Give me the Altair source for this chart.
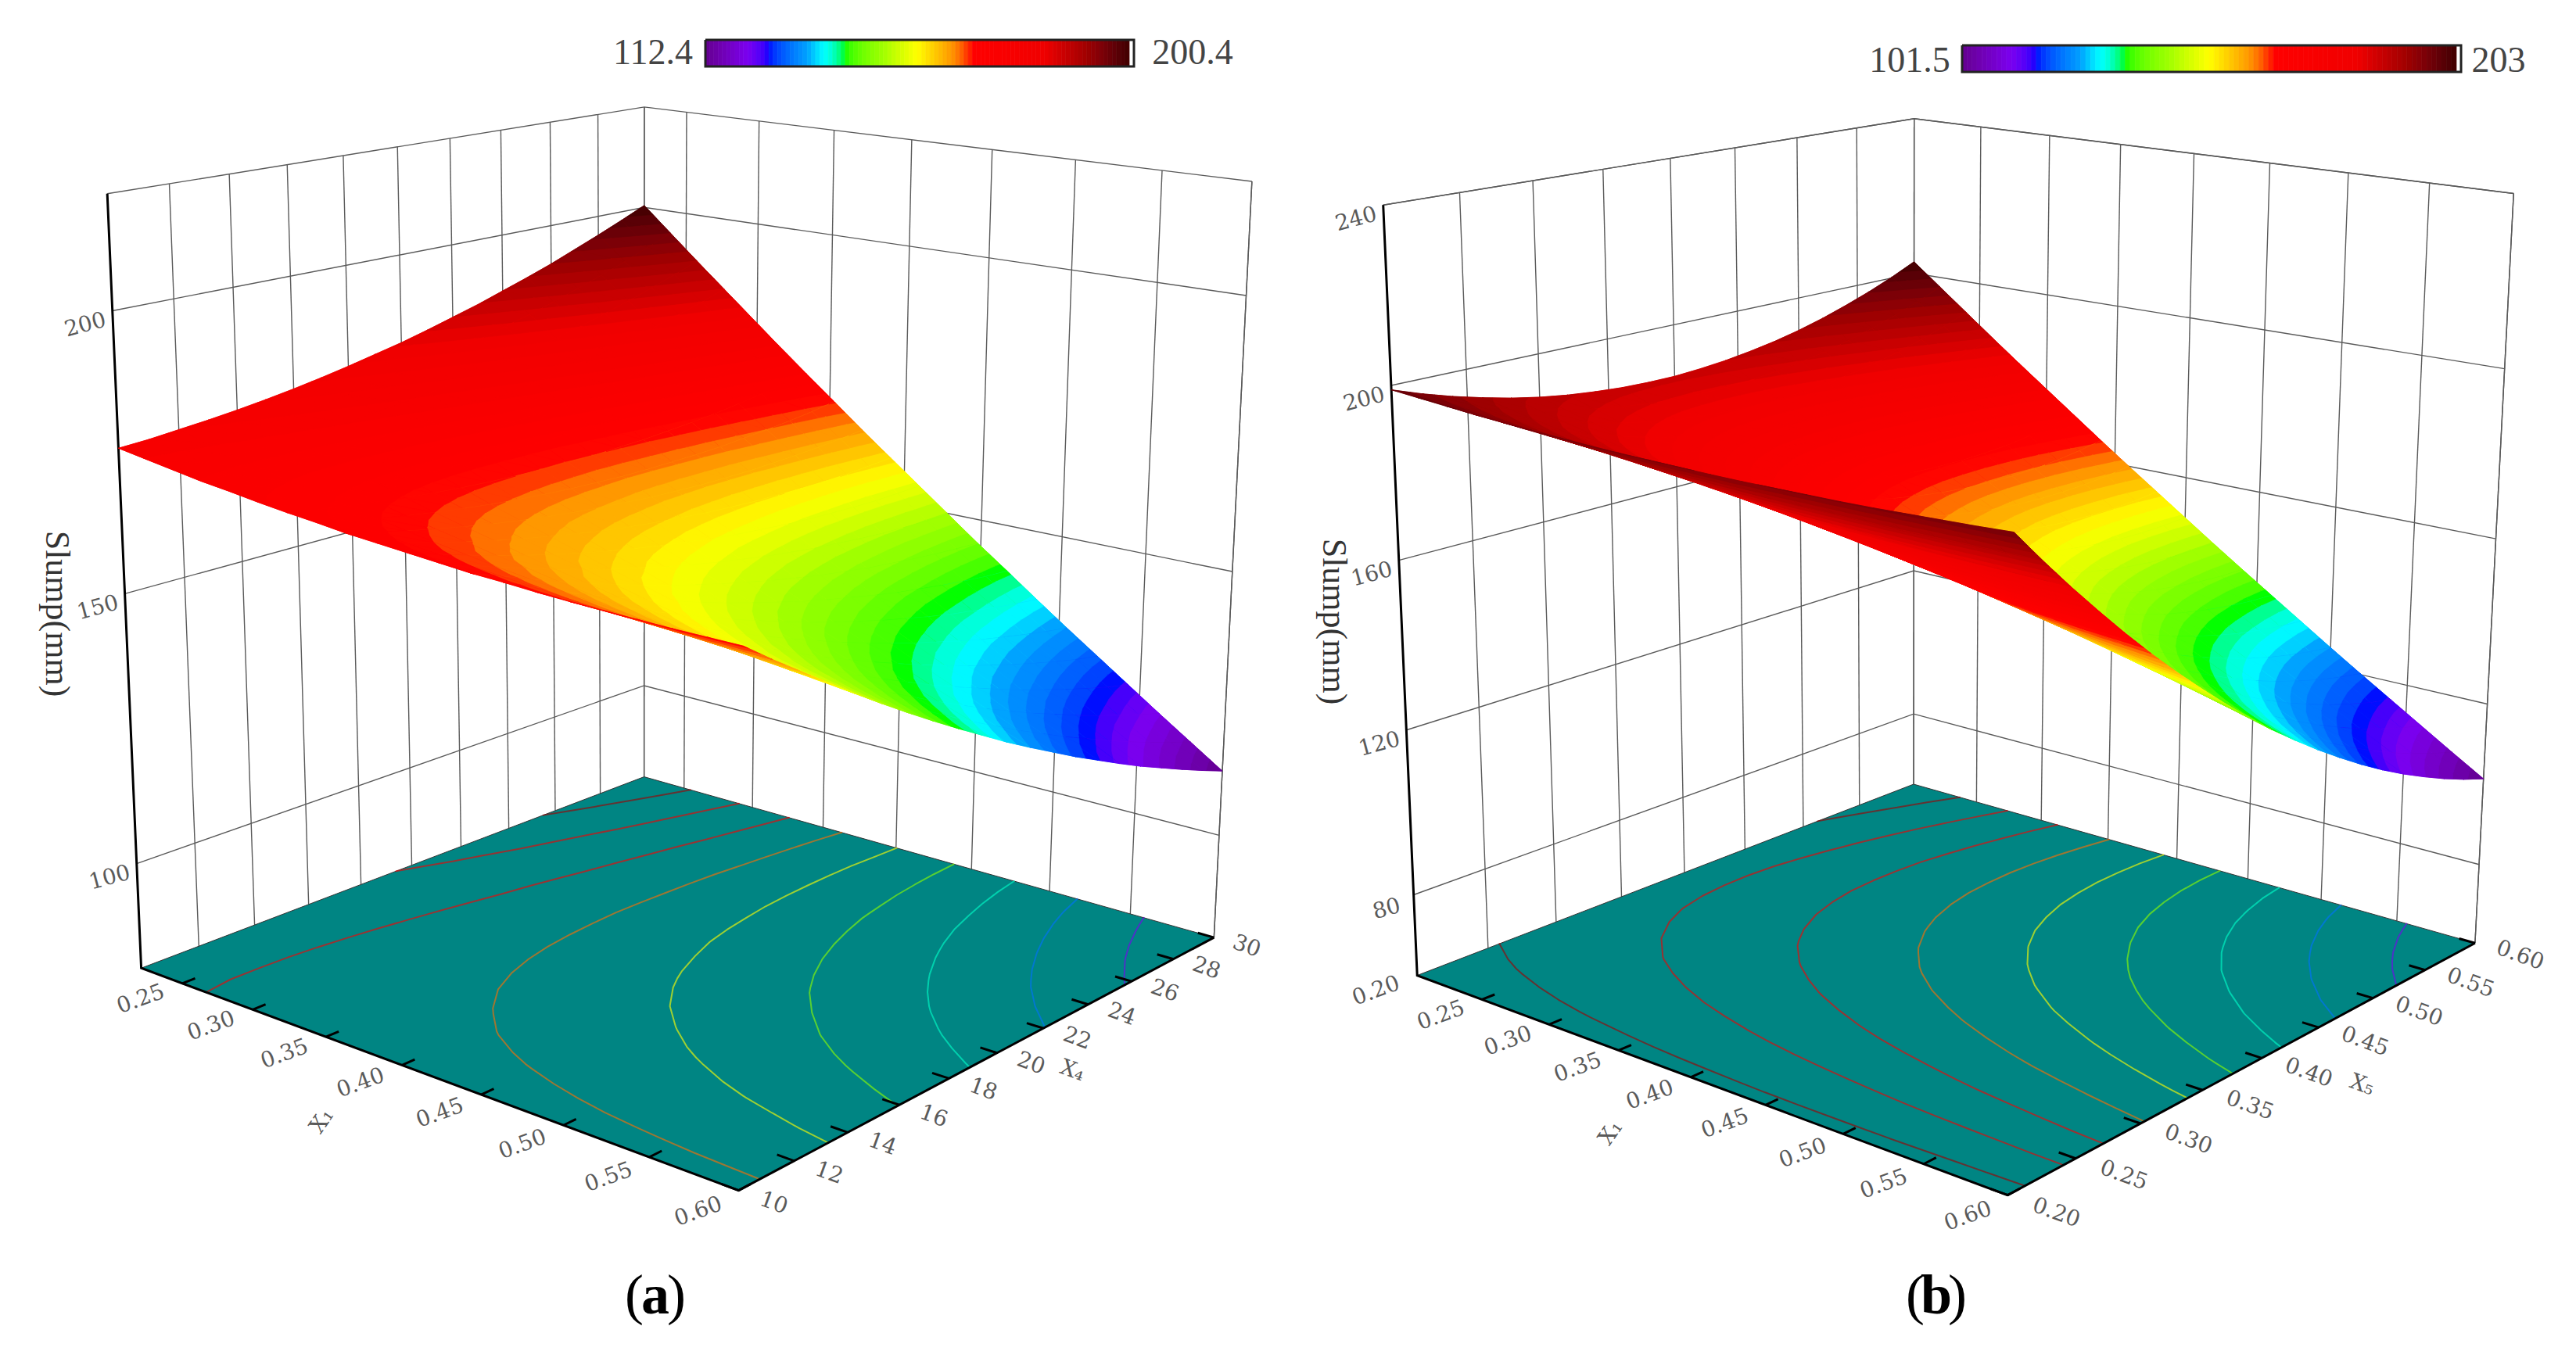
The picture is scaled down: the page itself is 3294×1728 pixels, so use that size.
import altair as alt
import numpy as np

# ---------- values ----------
# rows: X4 = 10..30 in 21 steps, columns: X1 = 0.22..0.60 in 21 steps
Z_A = [
[176.0,175.2,174.4,173.6,173.0,172.3,171.7,171.2,170.6,170.2,169.8,169.4,169.0,168.8,168.5,168.3,168.2,168.1,168.0,168.0,168.0],
[176.3,175.3,174.3,173.4,172.5,171.6,170.8,170.1,169.4,168.7,168.1,167.5,167.0,166.5,166.0,165.6,165.3,165.0,164.7,164.5,164.3],
[176.8,175.5,174.4,173.2,172.1,171.1,170.1,169.1,168.2,167.3,166.5,165.7,165.0,164.3,163.7,163.1,162.5,162.0,161.6,161.1,160.8],
[177.3,175.9,174.5,173.1,171.8,170.6,169.4,168.2,167.1,166.1,165.0,164.1,163.1,162.2,161.4,160.6,159.8,159.1,158.5,157.8,157.3],
[177.9,176.3,174.7,173.1,171.7,170.2,168.8,167.4,166.1,164.9,163.6,162.4,161.3,160.2,159.2,158.2,157.2,156.3,155.5,154.7,153.9],
[178.6,176.8,175.0,173.2,171.6,169.9,168.3,166.7,165.2,163.8,162.3,161.0,159.6,158.3,157.1,155.9,154.7,153.6,152.6,151.6,150.6],
[179.4,177.4,175.4,173.4,171.6,169.7,167.9,166.1,164.4,162.8,161.1,159.5,158.0,156.6,155.1,153.7,152.4,151.0,149.8,148.6,147.4],
[180.3,178.1,175.9,173.7,171.6,169.6,167.6,165.6,163.7,161.9,160.0,158.3,156.5,154.8,153.2,151.6,150.0,148.5,147.1,145.7,144.3],
[181.3,178.8,176.5,174.1,171.8,169.6,167.4,165.2,163.1,161.0,159.0,157.0,155.1,153.2,151.4,149.6,147.8,146.1,144.5,142.9,141.3],
[182.4,179.7,177.1,174.6,172.1,169.7,167.3,164.9,162.6,160.3,158.1,155.9,153.8,151.7,149.7,147.7,145.7,143.8,142.0,140.2,138.4],
[183.5,180.7,177.9,175.2,172.5,169.8,167.2,164.7,162.2,159.7,157.3,154.9,152.6,150.3,148.0,145.8,143.7,141.6,139.5,137.5,135.5],
[184.8,181.8,178.8,175.8,172.9,170.1,167.3,164.5,161.8,159.2,156.5,154.0,151.4,148.9,146.5,144.1,141.8,139.4,137.2,135.0,132.8],
[186.2,182.9,179.7,176.6,173.5,170.5,167.5,164.5,161.6,158.7,155.9,153.1,150.4,147.7,145.1,142.5,139.9,137.4,134.9,132.5,130.2],
[187.6,184.2,180.8,177.4,174.2,170.9,167.7,164.6,161.4,158.4,155.4,152.4,149.4,146.6,143.7,140.9,138.2,135.5,132.8,130.2,127.6],
[189.2,185.5,181.9,178.4,174.9,171.5,168.1,164.7,161.4,158.1,154.9,151.7,148.6,145.5,142.5,139.5,136.5,133.6,130.7,127.9,125.2],
[190.8,186.9,183.1,179.4,175.8,172.1,168.5,164.9,161.4,158.0,154.5,151.2,147.8,144.5,141.3,138.1,135.0,131.8,128.8,125.8,122.8],
[192.5,188.5,184.5,180.6,176.7,172.8,169.0,165.3,161.6,157.9,154.3,150.7,147.2,143.7,140.2,136.8,133.5,130.2,126.9,123.7,120.5],
[194.4,190.1,185.9,181.8,177.7,173.7,169.7,165.7,161.8,157.9,154.1,150.3,146.6,142.9,139.3,135.7,132.1,128.6,125.1,121.7,118.4],
[196.3,191.8,187.5,183.1,178.8,174.6,170.4,166.2,162.1,158.0,154.0,150.1,146.1,142.2,138.4,134.6,130.8,127.1,123.5,119.8,116.3],
[198.3,193.7,189.1,184.5,180.1,175.6,171.2,166.8,162.5,158.3,154.1,149.9,145.7,141.6,137.6,133.6,129.6,125.7,121.9,118.1,114.3],
[200.4,195.6,190.8,186.1,181.4,176.7,172.1,167.6,163.0,158.6,154.2,149.8,145.4,141.2,136.9,132.7,128.6,124.5,120.4,116.4,112.4],
]
# rows: X5 = 0.20..0.60 in 21 steps, columns: X1 = 0.20..0.60 in 21 steps
Z_B = [
[199.0,198.5,198.0,197.5,197.1,196.8,196.5,196.2,196.0,195.9,195.8,195.7,195.7,195.8,195.9,196.0,196.2,196.5,196.8,197.1,197.5],
[196.6,195.8,195.1,194.4,193.7,193.1,192.6,192.1,191.6,191.2,190.9,190.6,190.3,190.1,190.0,189.9,189.8,189.8,189.9,190.0,190.1],
[194.5,193.5,192.5,191.5,190.6,189.8,189.0,188.2,187.5,186.9,186.3,185.7,185.2,184.8,184.4,184.0,183.7,183.5,183.3,183.1,183.0],
[192.7,191.4,190.1,188.9,187.8,186.7,185.6,184.6,183.7,182.8,181.9,181.1,180.4,179.7,179.0,178.4,177.9,177.4,176.9,176.5,176.2],
[191.1,189.6,188.1,186.6,185.2,183.9,182.6,181.3,180.1,179.0,177.9,176.8,175.8,174.9,174.0,173.1,172.3,171.6,170.9,170.2,169.6],
[189.8,188.0,186.3,184.6,182.9,181.3,179.8,178.3,176.8,175.4,174.1,172.8,171.5,170.3,169.2,168.1,167.0,166.0,165.1,164.2,163.3],
[188.8,186.8,184.8,182.8,180.9,179.1,177.3,175.5,173.8,172.2,170.6,169.0,167.5,166.1,164.7,163.3,162.0,160.8,159.6,158.4,157.3],
[188.1,185.8,183.5,181.3,179.2,177.1,175.0,173.0,171.1,169.2,167.3,165.5,163.8,162.1,160.4,158.8,157.3,155.8,154.3,152.9,151.6],
[187.6,185.0,182.5,180.1,177.7,175.3,173.0,170.8,168.6,166.4,164.3,162.3,160.3,158.3,156.4,154.6,152.8,151.0,149.3,147.7,146.1],
[187.4,184.6,181.8,179.1,176.5,173.9,171.3,168.8,166.4,164.0,161.6,159.3,157.1,154.9,152.7,150.6,148.6,146.6,144.6,142.7,140.9],
[187.4,184.4,181.4,178.4,175.5,172.7,169.9,167.1,164.4,161.8,159.2,156.6,154.1,151.7,149.3,146.9,144.6,142.4,140.2,138.0,135.9],
[187.8,184.5,181.2,178.0,174.9,171.8,168.7,165.7,162.8,159.9,157.0,154.2,151.5,148.8,146.1,143.5,141.0,138.5,136.0,133.6,131.3],
[188.4,184.8,181.3,177.9,174.5,171.1,167.8,164.6,161.4,158.2,155.1,152.1,149.1,146.1,143.2,140.4,137.6,134.8,132.1,129.5,126.9],
[189.3,185.5,181.7,178.0,174.4,170.8,167.2,163.7,160.3,156.9,153.5,150.2,147.0,143.8,140.6,137.5,134.5,131.5,128.5,125.6,122.8],
[190.4,186.4,182.4,178.4,174.5,170.7,166.9,163.1,159.4,155.8,152.2,148.6,145.1,141.7,138.3,134.9,131.6,128.4,125.2,122.0,118.9],
[191.8,187.5,183.3,179.1,174.9,170.8,166.8,162.8,158.8,154.9,151.1,147.3,143.5,139.8,136.2,132.6,129.0,125.5,122.1,118.7,115.3],
[193.5,189.0,184.5,180.0,175.6,171.3,167.0,162.7,158.5,154.4,150.3,146.2,142.2,138.3,134.4,130.5,126.7,123.0,119.3,115.6,112.0],
[195.5,190.7,185.9,181.2,176.6,172.0,167.4,162.9,158.5,154.1,149.7,145.4,141.2,137.0,132.8,128.7,124.7,120.7,116.7,112.8,109.0],
[197.7,192.7,187.7,182.7,177.8,173.0,168.2,163.4,158.7,154.1,149.5,144.9,140.4,136.0,131.6,127.2,122.9,118.7,114.5,110.3,106.2],
[200.2,194.9,189.7,184.5,179.3,174.2,169.2,164.2,159.2,154.3,149.5,144.7,139.9,135.2,130.6,126.0,121.4,116.9,112.5,108.1,103.7],
[203.0,197.5,192.0,186.5,181.1,175.8,170.5,165.2,160.0,154.9,149.8,144.7,139.7,134.8,129.9,125.0,120.2,115.5,110.8,106.1,101.5],
]
LEVELS_A = [121.2, 130.0, 138.8, 147.6, 156.4, 165.2, 174.0, 182.8, 191.6]
LEVELS_B = [111.65, 121.8, 131.95, 142.1, 152.25, 162.4, 172.55, 182.7, 192.85]
X1_TICKS_A = [0.25, 0.30, 0.35, 0.40, 0.45, 0.50, 0.55, 0.60]
X4_TICKS_A = [10, 12, 14, 16, 18, 20, 22, 24, 26, 28, 30]
Z_TICKS_A = [100, 150, 200]
X1_TICKS_B = [0.25, 0.30, 0.35, 0.40, 0.45, 0.50, 0.55, 0.60]
X5_TICKS_B = [0.20, 0.25, 0.30, 0.35, 0.40, 0.45, 0.50, 0.55, 0.60]
Z_TICKS_B = [80, 120, 160, 200, 240]

# ---------- view of each 3D box: (s, t, w) box position -> picture position ----------
VIEW_A = [((0,0,0),(177,1240)),((1,0,0),(946,1525)),((1,1,0),(1555,1198)),((0,1,0),(824,994)),
          ((0,0,1),(135,248)),((0,1,1),(824,138)),((1,1,1),(1601,231)),
          ((0.2105,0,0),(327,1290)),((0.6053,0,0),(619,1399)),
          ((1,0.3,0),(1146,1414)),((1,0.7,0),(1388,1285)),
          ((0,0,1/7),(174,1102)),((0,0,0.5),(158,760)),((0,0,6/7),(147,397))]
VIEW_B = [((0,0,0),(1808,1248)),((1,0,0),(2567,1532)),((1,1,0),(3168,1203)),((0,1,0),(2447,1005)),
          ((0,0,1),(1767,262)),((0,1,1),(2447,152)),((1,1,1),(3215,248)),
          ((0.25,0,0),(1983,1310)),((0.625,0,0),(2261,1413)),
          ((1,0.25,0),(2734,1437)),((1,0.75,0),(3031,1277)),
          ((0,0,7/9),(1778,494)),((0,0,5/9),(1792,716)),((0,0,1/3),(1800,931))]

FLOOR = "#008583"
GRID = "#5a5a5a"
TEXT = "#5a5a5a"
BANDS = 56
STOPS = [0, .10, .15, .24, .28, .33, .42, .50, .58, .62, .635, .80, .90, 1]
COLORS = ["#640090", "#7a00f0", "#0000ff", "#00a0ff", "#00ffff", "#00ff00", "#a0ff00", "#ffff00",
          "#ff9900", "#ff2800", "#ff0000", "#f00000", "#a00000", "#400000"]
CS = alt.Scale(domain=STOPS, range=COLORS, clamp=True)


def camera(view):
    rows = []
    for (X, Y, Z), (u, v) in view:
        u, v = u / 1000, v / 1000
        rows.append([X, Y, Z, 1, 0, 0, 0, 0, -u*X, -u*Y, -u*Z, -u])
        rows.append([0, 0, 0, 0, X, Y, Z, 1, -v*X, -v*Y, -v*Z, -v])
    return np.linalg.svd(np.array(rows, float))[2][-1].reshape(3, 4)


def project(P, s, t, w):
    h = P @ np.array([s, t, w, 1.0])
    return [float(1000*h[0]/h[2]), float(1000*h[1]/h[2])]


def feat(kind, coords, **props):
    return {"type": "Feature", "geometry": {"type": kind, "coordinates": coords}, "properties": props}


def clip(poly, lim, keep_above):
    """Keep the part of a facet on one side of a height, as a filled-contour plot does."""
    out = []
    for k, a in enumerate(poly):
        b = poly[(k + 1) % len(poly)]
        ina = a[2] >= lim if keep_above else a[2] <= lim
        inb = b[2] >= lim if keep_above else b[2] <= lim
        if ina:
            out.append(a)
        if ina != inb:
            r = (lim - a[2]) / (b[2] - a[2])
            out.append((a[0] + r*(b[0]-a[0]), a[1] + r*(b[1]-a[1]), lim))
    return out


def panel(Z, levels, view, x1_ticks, x2_ticks, z_ticks, x1_dom, x2_dom, z_dom, x2_fmt, x2_name,
          right_off, bar, bar_labels, tag, slump, x1_title, x2_title):
    P = camera(view)
    Z = np.array(Z)
    n = Z.shape[0]
    zmin, zmax = float(Z.min()), float(Z.max())
    S = lambda v: (v - x1_dom[0]) / (x1_dom[1] - x1_dom[0])
    T = lambda v: (v - x2_dom[0]) / (x2_dom[1] - x2_dom[0])
    W = lambda v: (v - z_dom[0]) / (z_dom[1] - z_dom[0])
    F = lambda v: float((v - zmin) / (zmax - zmin))
    pr = lambda s, t, w=0: project(P, s, t, w)

    # walls
    grid = []
    for v in x2_ticks:
        grid.append(feat("LineString", [pr(0, T(v)), pr(0, T(v), 1)]))
    for v in x1_ticks:
        grid.append(feat("LineString", [pr(S(v), 1), pr(S(v), 1, 1)]))
    for v in z_ticks:
        grid.append(feat("LineString", [pr(0, 0, W(v)), pr(0, 1, W(v)), pr(1, 1, W(v))]))
    grid.append(feat("LineString", [pr(0, 0, 1), pr(0, 1, 1), pr(1, 1, 1)]))
    grid.append(feat("LineString", [pr(0, 1), pr(0, 1, 1)]))
    grid.append(feat("LineString", [pr(1, 1), pr(1, 1, 1)]))
    layers = [alt.Chart(alt.Data(values=grid)).mark_geoshape(filled=False, stroke=GRID, strokeWidth=1.4)]

    # floor
    floor = [feat("Polygon", [[pr(0, 0), pr(1, 0), pr(1, 1), pr(0, 1), pr(0, 0)]])]
    layers.append(alt.Chart(alt.Data(values=floor)).mark_geoshape(fill=FLOOR, stroke="#333333", strokeWidth=1))

    cont = []
    d = 1 / (n - 1)
    for level in levels:
        lv = level + 0.0137
        segs = []
        for j in range(n - 1):
            for i in range(n - 1):
                c = [(i, j), (i + 1, j), (i + 1, j + 1), (i, j + 1)]
                pts = []
                for k in range(4):
                    a, b = c[k], c[(k + 1) % 4]
                    za, zb = Z[a[1], a[0]], Z[b[1], b[0]]
                    if (za - lv) * (zb - lv) < 0:
                        r = (lv - za) / (zb - za)
                        pts.append(pr((a[0] + r * (b[0] - a[0])) * d, (a[1] + r * (b[1] - a[1])) * d))
                for k in range(0, len(pts) - 1, 2):
                    segs.append([pts[k], pts[k + 1]])
        cont.append(feat("MultiLineString", segs, f=F(level)))
    layers.append(alt.Chart(alt.Data(values=cont)).mark_geoshape(
        filled=False, strokeWidth=2, strokeOpacity=0.62, strokeCap="round"
    ).encode(stroke=alt.Stroke("properties.f:Q", scale=CS, legend=None)))

    # axes
    thick = [feat("LineString", [pr(0, 0, 1), pr(0, 0), pr(1, 0), pr(1, 1)])]
    for v in x1_ticks:
        thick.append(feat("LineString", [pr(S(v), 0), pr(S(v), 0.022)]))
    for v in x2_ticks:
        thick.append(feat("LineString", [pr(1, T(v)), pr(0.975, T(v))]))
    layers.append(alt.Chart(alt.Data(values=thick)).mark_geoshape(filled=False, stroke="#000000", strokeWidth=3))

    # surface: facets far to near, each filled as colour bands like the reference
    cells = []
    order = sorted(((i, j) for j in range(n - 1) for i in range(n - 1)), key=lambda c: c[0] - c[1])
    step = (zmax - zmin) / BANDS
    for i, j in order:
        a = (i*d, j*d, float(Z[j, i]))
        b = (i*d + d, j*d, float(Z[j, i+1]))
        c = (i*d + d, j*d + d, float(Z[j+1, i+1]))
        e = (i*d, j*d + d, float(Z[j+1, i]))
        # one plain facet underneath closes any hairline gap between the bands
        under = [pr(p[0], p[1], W(p[2])) for p in (a, b, c, e, a)]
        cells.append(feat("Polygon", [under], f=F((a[2] + b[2] + c[2] + e[2]) / 4)))
        # far triangle first
        for tri in ([a, c, e], [a, b, c]):
            zs = [p[2] for p in tri]
            k0 = max(int((min(zs) - zmin) // step), 0)
            k1 = min(int((max(zs) - zmin) // step), BANDS - 1)
            for k in range(k0, k1 + 1):
                lo = zmin + k * step
                poly = clip(clip(list(tri), lo, True), lo + step, False)
                if len(poly) < 3:
                    continue
                ring = [pr(p[0], p[1], W(p[2])) for p in poly]
                ring.append(ring[0])
                cells.append(feat("Polygon", [ring], f=(k + 0.5) / BANDS))
    layers.append(alt.Chart(alt.Data(values=cells)).mark_geoshape(strokeWidth=0.7).encode(
        fill=alt.Fill("properties.f:Q", scale=CS, legend=None),
        stroke=alt.Stroke("properties.f:Q", scale=CS, legend=None)))

    # tick labels
    def text_layer(rows, angle, size=28, font="DejaVu Serif", color=TEXT, weight="normal", **kw):
        return alt.Chart(alt.Data(values=rows)).mark_text(
            angle=angle, fontSize=size, font=font, color=color, fontWeight=weight,
            align="center", baseline="middle", **kw
        ).encode(longitude="lon:Q", latitude="lat:Q", text="t:N")

    def row(xy, t):
        return {"lon": xy[0], "lat": xy[1], "t": t}

    x1_labels = sorted(set(x1_ticks) | ({x1_dom[0]} if x1_dom[0] == 0.20 else set()))
    rows = [row(pr(S(v), -0.07), f"{v:.2f}") for v in x1_labels]
    layers.append(text_layer(rows, 340))
    rows = [row(pr(right_off, T(v)), x2_fmt.format(v)) for v in x2_ticks]
    layers.append(text_layer(rows, 20))
    rows = [row(pr(0, 0, W(v)), str(v)) for v in z_ticks]
    layers.append(text_layer(rows, 345, dx=-38, dy=9))
    layers.append(text_layer([row(pr(S(x1_title[0]), x1_title[1]), "X\u2081")], 305))
    layers.append(text_layer([row(pr(x2_title[0], T(x2_title[1])), x2_name)], 20))
    layers.append(text_layer([row(slump, "Slump(mm)")], 90, size=44, font="Liberation Serif", color="#333333"))

    # colour bar
    x0, x1, y0, y1 = bar
    steps = 100
    xe = x1 - 6
    bar_cells = []
    for k in range(steps):
        a = x0 + (xe - x0) * k / steps
        b = x0 + (xe - x0) * (k + 1) / steps
        bar_cells.append(feat("Polygon", [[[a, y0], [b, y0], [b, y1], [a, y1], [a, y0]]], f=(k + 0.5) / steps))
    layers.append(alt.Chart(alt.Data(values=bar_cells)).mark_geoshape(strokeWidth=0.7).encode(
        fill=alt.Fill("properties.f:Q", scale=CS, legend=None),
        stroke=alt.Stroke("properties.f:Q", scale=CS, legend=None)))
    frame = [feat("LineString", [[x0, y0], [x1, y0], [x1, y1], [x0, y1], [x0, y0]])]
    layers.append(alt.Chart(alt.Data(values=frame)).mark_geoshape(filled=False, stroke="#222222", strokeWidth=3))
    for (xy, t) in bar_labels:
        layers.append(text_layer([row(xy, t)], 0, size=46, font="Liberation Serif", color="#444444"))

    # panel tag
    tx, ty = tag[0]
    layers.append(text_layer([row((tx - 27, ty), "(")], 0, size=72, font="Liberation Serif", color="#000000"))
    layers.append(text_layer([row((tx, ty), tag[1])], 0, size=72, font="Liberation Serif", color="#000000", weight="bold"))
    layers.append(text_layer([row((tx + 27, ty), ")")], 0, size=72, font="Liberation Serif", color="#000000"))
    return layers


layers = panel(Z_A, LEVELS_A, VIEW_A, X1_TICKS_A, X4_TICKS_A, Z_TICKS_A, (0.22, 0.60), (10, 30), (80, 220),
               "{:d}", "X\u2084", 1.05, (902, 1450, 51, 85),
               [((835, 68), "112.4"), ((1525, 68), "200.4")], ((838, 1658), "a"), (72, 785),
               (0.416, -0.175), (1.10, 20.3))
layers += panel(Z_B, LEVELS_B, VIEW_B, X1_TICKS_B, X5_TICKS_B, Z_TICKS_B, (0.20, 0.60), (0.20, 0.60), (60, 240),
                "{:.2f}", "X\u2085", 1.07, (2509, 3147, 58, 92),
                [((2442, 78), "101.5"), ((3195, 78), "203")], ((2476, 1658), "b"), (1705, 795),
                (0.416, -0.175), (1.14, 0.405))

chart = alt.layer(*layers).project(type="identity", scale=1, translate=[-8, -8]).properties(
    width=3278, height=1712, padding=0, background="white",
    autosize=alt.AutoSizeParams(type="none")
).configure_view(stroke=None)

chart.save("out.html", embed_options={"renderer": "svg", "actions": False})
